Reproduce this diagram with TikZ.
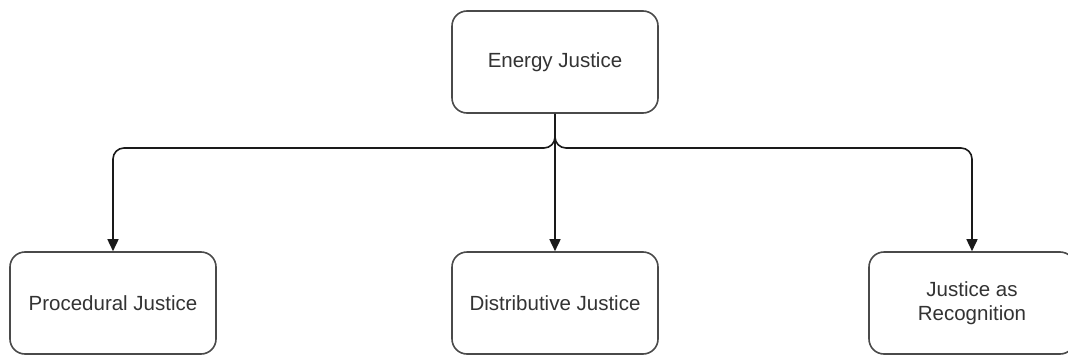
\documentclass[tikz,border=0pt]{standalone}
\usepackage{fontspec}
\setmainfont{Liberation Sans}
\usetikzlibrary{arrows.meta}
\definecolor{boxline}{HTML}{4A4A4A}
\definecolor{txt}{HTML}{333333}
\definecolor{edgecol}{HTML}{1A1A1A}
\tikzset{
  jbox/.style={draw=boxline, line width=1.6pt, rounded corners=15pt, fill=white,
    minimum width=206pt, minimum height=102pt, inner sep=0pt,
    font=\fontsize{20.5}{23.5}\selectfont, text=txt, align=center},
  edge/.style={draw=edgecol, line width=1.6pt, rounded corners=11pt,
    -{Triangle[width=11pt,length=12pt]}}
}
\begin{document}
\begin{tikzpicture}[x=1pt,y=-1pt]
\useasboundingbox (0,0) rectangle (1068,356);
\node[jbox] (ej) at (555,62) {Energy Justice};
\node[jbox] (pj) at (113,303) {Procedural Justice};
\node[jbox] (dj) at (555,303) {Distributive Justice};
\node[jbox] (jr) at (972,303) {Justice as\\Recognition};
\coordinate (bus) at (0,148);
\draw[edge] (ej.south) -- (ej.south |- bus) -| (pj.north);
\draw[edge] (ej.south) -- (ej.south |- bus) -| (jr.north);
\draw[edge] (ej.south) -- (dj.north);
\end{tikzpicture}
\end{document}
